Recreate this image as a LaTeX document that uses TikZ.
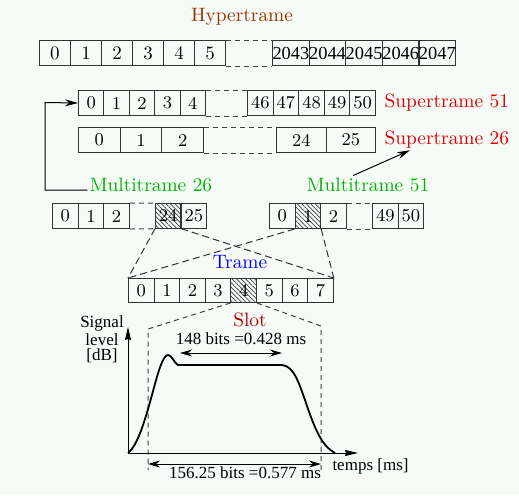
\documentclass[tikz,border=0pt]{standalone}
\usepackage{fontspec}
\newfontfamily\tms{Liberation Serif}
\usetikzlibrary{arrows.meta, patterns.meta}
\definecolor{bgpaper}{RGB}{246,251,248}
\definecolor{hyperc}{RGB}{153,51,0}
\definecolor{superc}{RGB}{220,0,0}
\definecolor{multic}{RGB}{0,180,0}
\definecolor{tramec}{RGB}{0,0,255}
\definecolor{slotc}{RGB}{170,0,0}
\tikzset{
  cell/.style={draw=black!80, inner sep=0pt, anchor=north west, minimum height=12.5pt,
    font=\fontsize{9}{10}\selectfont},
  bigcell/.style={font=\fontsize{9.5}{11}\selectfont},
  widecell/.style={font=\tms\fontsize{9.2}{11}\selectfont},
  hatched/.style={pattern={Lines[angle=-45, distance=1.6pt, line width=0.35pt]}, pattern color=black!75},
  gap/.style={draw=black!75, dash pattern=on 2.5pt off 2pt},
  proj/.style={draw=black!80, dash pattern=on 3.5pt off 2pt},
  lab/.style={inner sep=1pt, font=\fontsize{9.7}{12}\selectfont},
  txt/.style={inner sep=1pt, font=\tms\fontsize{8.5}{7.5}\selectfont},
  tip/.style={-{Stealth[length=6.5pt, width=3.5pt]}},
  dim/.style={{Stealth[length=6pt, width=3.5pt]}-{Stealth[length=6pt, width=3.5pt]}},
  axis/.style={-{Stealth[length=6.5pt, width=3pt, inset=0.5pt]}},
  curve/.style={line width=0.9pt, line join=round}
}
\begin{document}
\begin{tikzpicture}[x=0.5pt, y=-0.5pt, line width=0.5pt]
    \fill[bgpaper] (0,0) rectangle (519,495);
    \useasboundingbox (0,0) rectangle (519,495);
    % Hypertrame: 2048 multi-superframes
    \node[lab, text=hyperc] (hyper) at (242,17) {Hypertrame};
    \foreach \n in {0,...,5}
        \node[cell, bigcell, minimum width=15.5pt] (h\n) at ({39+31*\n},40) {\n};
    \foreach \n in {2043,...,2047}
        \node[cell, widecell, minimum width=18.3pt] (h\n) at ({272+36.6*(\n-2043)},40) {\n};
    \draw[gap] (h5.north east) -- (h2043.north west) (h5.south east) -- (h2043.south west);
    % Supertrame 51: 51 multiframes of 26
    \foreach \n in {0,...,4}
        \node[cell, minimum width=12.7pt] (sa\n) at ({78+25.4*\n},90) {\n};
    \foreach \n in {46,...,50}
        \node[cell, minimum width=12.8pt] (sa\n) at ({247+25.6*(\n-46)},90) {\n};
    \draw[gap] (sa4.north east) -- (sa46.north west) (sa4.south east) -- (sa46.south west);
    \node[lab, text=superc, anchor=base west] (super51) at (382,107) {Supertrame 51};
    % Supertrame 26: 26 multiframes of 51
    \foreach \n in {0,1,2}
        \node[cell, minimum width=20.85pt] (sb\n) at ({78+41.7*\n},127) {\n};
    \foreach \n in {24,25}
        \node[cell, minimum width=24.75pt] (sb\n) at ({276+49.5*(\n-24)},127) {\n};
    \draw[gap] (sb2.north east) -- (sb24.north west) (sb2.south east) -- (sb24.south west);
    \node[lab, text=superc, anchor=base west] (super26) at (382,144) {Supertrame 26};
    % Multitrame 26
    \node[lab, text=multic] (multi26) at (151,185) {Multitrame 26};
    \foreach \n in {0,1,2}
        \node[cell, minimum width=12.8pt] (ma\n) at ({52+25.6*\n},203) {\n};
    \node[cell, hatched, minimum width=12.8pt] (ma24) at (155,203) {24};
    \node[cell, minimum width=12.8pt] (ma25) at (180.6,203) {25};
    \draw[gap] (ma2.north east) -- (ma24.north west) (ma2.south east) -- (ma24.south west);
    % Multitrame 51
    \node[lab, text=multic] (multi51) at (368,185) {Multitrame 51};
    \node[cell, minimum width=12.8pt] (mb0) at (269,203) {0};
    \node[cell, hatched, minimum width=12.8pt] (mb1) at (294.6,203) {1};
    \node[cell, minimum width=12.8pt] (mb2) at (320.2,203) {2};
    \node[cell, minimum width=12.8pt] (mb49) at (372,203) {49};
    \node[cell, minimum width=12.8pt] (mb50) at (397.6,203) {50};
    \draw[gap] (mb2.north east) -- (mb49.north west) (mb2.south east) -- (mb49.south west);
    % links between levels
    \coordinate (turn) at (45,102.5);
    \draw[tip] ([yshift=-2.5pt]multi26.west) -| (turn) -- (sa0.west);
    \draw[tip] ([xshift=-7.5pt]multi51.north) -- ([xshift=14pt]super26.south west);
    % Trame: 8 slots
    \node[lab, text=tramec] (trame) at (240,262) {Trame};
    \foreach \n in {0,1,2,3,5,6,7}
        \node[cell, minimum width=12.8pt, minimum height=12pt] (t\n) at ({128+25.6*\n},278) {\n};
    \node[cell, hatched, minimum width=12.8pt, minimum height=12pt] (t4) at (230.4,278) {4};
    \draw[proj] (ma24.south west) -- (t0.north west) (ma24.south east) -- (t7.north east);
    \draw[proj] (mb1.south west) -- (t0.north west) (mb1.south east) -- (t7.north east);
    % Slot and burst
    \node[lab, text=slotc] (slot) at (250,320) {Slot};
    \coordinate (slotl) at (148,329);
    \coordinate (slotr) at (321,326);
    \coordinate (slotlb) at (148,470);
    \coordinate (slotrb) at (321,470);
    \draw[gap] (t4.south west) -- (slotl) -- (slotlb) (t4.south east) -- (slotr) -- (slotrb);
    \coordinate (origin) at (128,453);
    \coordinate (ytop) at (128,327);
    \coordinate (xend) at (358,453);
    \draw[axis] (origin) -- (ytop);
    \draw[axis] (origin) -- (xend);
    \node[txt, align=center] (ylab) at (102,339) {Signal\\level\\{}[dB]};
    \node[txt, anchor=west] (xlab) at (330,466) {temps [ms]};
    \draw[curve] (origin) .. controls (138,445) and (145,420) .. (152,395)
        .. controls (158,372) and (163,355) .. (168,355)
        .. controls (172,355) and (174,363) .. (178,365) -- (282,365)
        .. controls (293,366) and (298,380) .. (305,400)
        .. controls (315,430) and (322,446) .. (335,453);
    \coordinate (burstl) at (180,353);
    \coordinate (burstr) at (282,353);
    \draw[dim] (burstl) -- (burstr);
    \node[txt] (burst) at (241,339) {148 bits =0.428 ms};
    \coordinate (lenl) at (148,464);
    \coordinate (lenr) at (321,464);
    \draw[dim] (lenl) -- (lenr);
    \node[txt] (len) at (245,473) {156.25 bits =0.577 ms};
\end{tikzpicture}
\end{document}
